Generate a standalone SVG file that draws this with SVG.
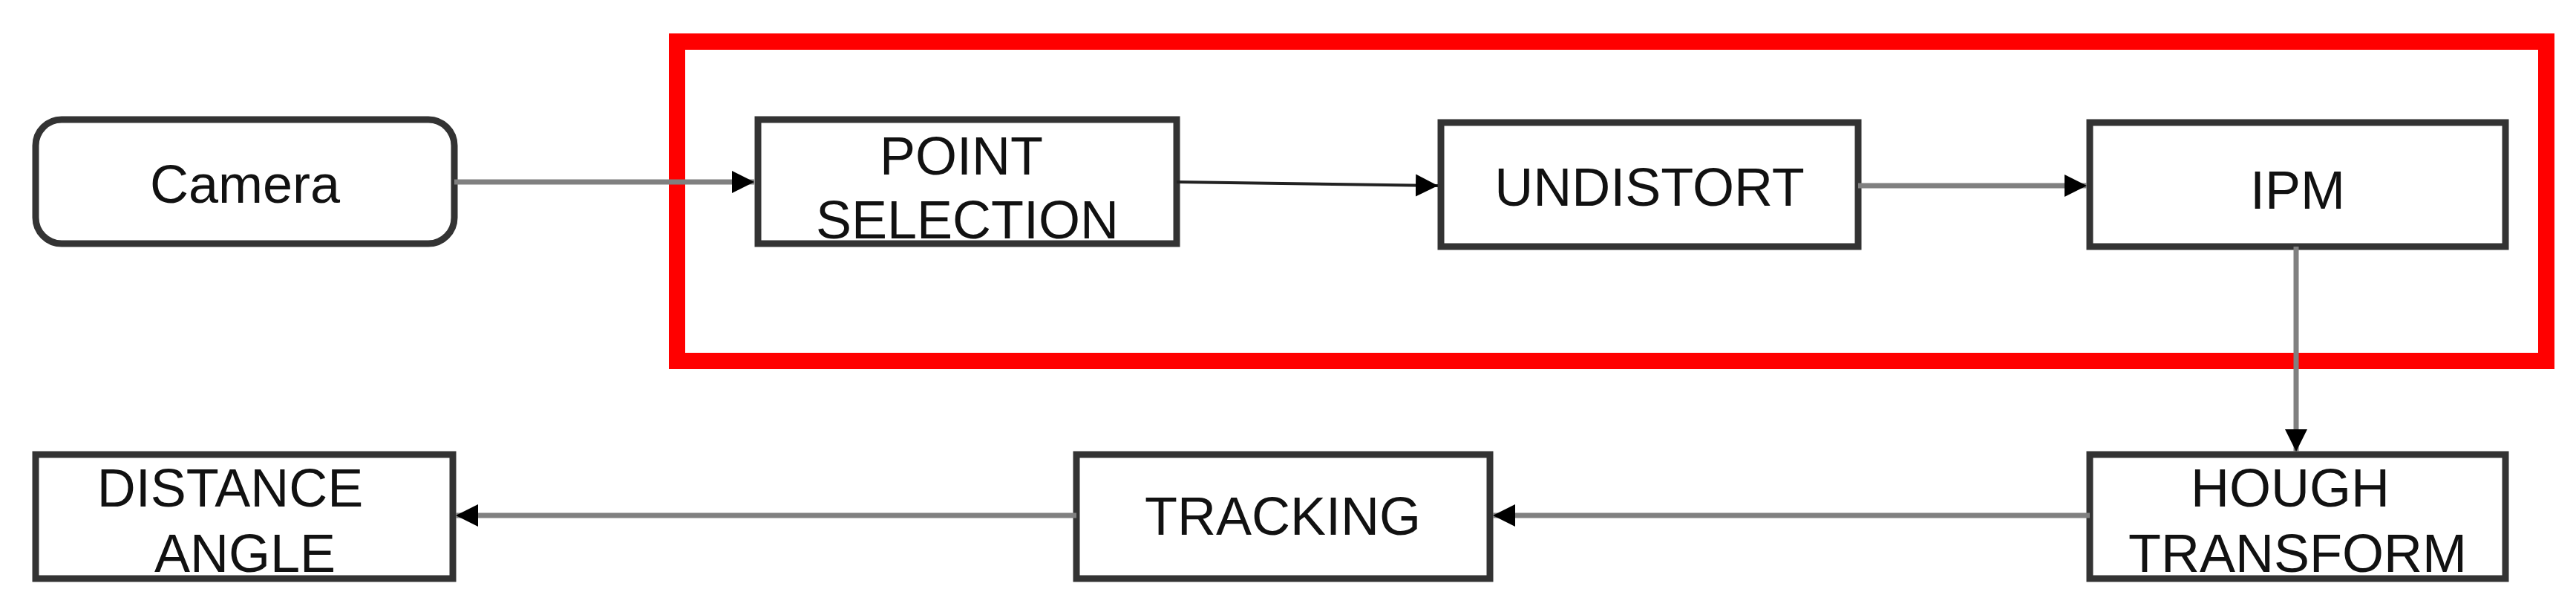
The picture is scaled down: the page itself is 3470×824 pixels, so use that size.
<svg xmlns="http://www.w3.org/2000/svg" width="3470" height="824" viewBox="0 0 3470 824">
<style>
.n{fill:#fff;stroke:#333;stroke-width:9}
.t{font-family:"Liberation Sans",Arial,sans-serif;font-size:72px;fill:#111;text-anchor:middle}
.c{stroke:#808080;stroke-width:7;fill:none}
</style>
<defs>
<marker id="a" viewBox="0 0 10 10" refX="10" refY="5" markerWidth="30" markerHeight="40" markerUnits="userSpaceOnUse" orient="auto"><path d="M0,0L10,5L0,10z" fill="#000"/></marker>
</defs>
<rect x="912" y="56" width="2518" height="430" fill="none" stroke="#f00" stroke-width="22"/>
<g id="camera"><rect class="n" x="48" y="161" width="564" height="167" rx="35"/><text class="t" x="330" y="273">Camera</text></g>
<g id="point"><rect class="n" x="1021" y="161" width="564" height="167"/><text class="t" x="1295" y="235">POINT</text><text class="t" x="1303" y="321">SELECTION</text></g>
<g id="undistort"><rect class="n" x="1941" y="165" width="562" height="167"/><text class="t" x="2222" y="277">UNDISTORT</text></g>
<g id="ipm"><rect class="n" x="2815" y="165" width="560" height="167"/><text class="t" x="3095" y="281">IPM</text></g>
<g id="hough"><rect class="n" x="2815" y="612" width="560" height="167"/><text class="t" x="3085" y="682">HOUGH</text><text class="t" x="3095" y="770">TRANSFORM</text></g>
<g id="tracking"><rect class="n" x="1450" y="612" width="557" height="167"/><text class="t" x="1728" y="720">TRACKING</text></g>
<g id="distance"><rect class="n" x="48" y="612" width="562" height="167"/><text class="t" x="310" y="682">DISTANCE</text><text class="t" x="330" y="770">ANGLE</text></g>
<g id="connectors">
<path class="c" d="M612,245H1016" marker-end="url(#a)"/>
<path d="M1585,245L1937,250" stroke="#222" stroke-width="4" fill="none" marker-end="url(#a)"/>
<path class="c" d="M2503,250H2811" marker-end="url(#a)"/>
<path class="c" d="M3093,332V608" marker-end="url(#a)"/>
<path class="c" d="M2815,694H2011" marker-end="url(#a)"/>
<path class="c" d="M1450,694H614" marker-end="url(#a)"/>
</g>
</svg>
